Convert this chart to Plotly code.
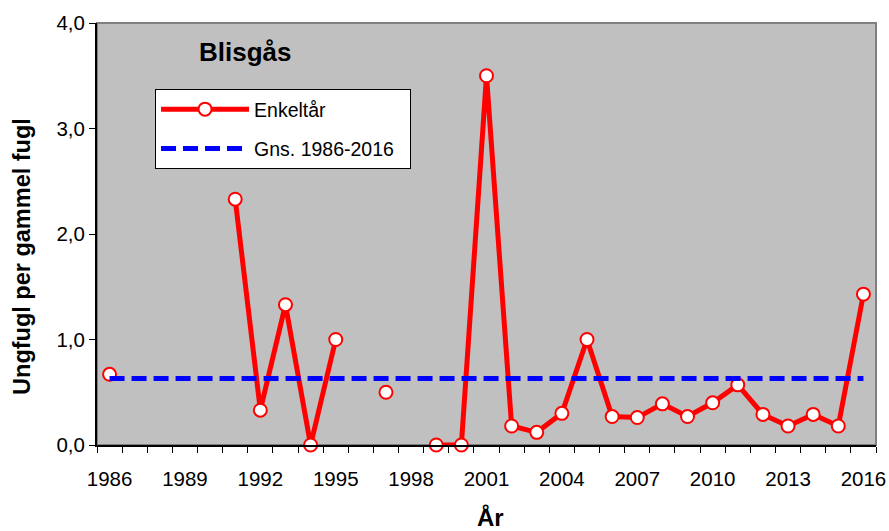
import plotly.graph_objects as go

# ---- data ----
years = list(range(1986, 2017))
values = [0.67, None, None, None, None, 2.33, 0.33, 1.33, 0.0, 1.0,
          None, 0.5, None, 0.0, 0.0, 3.5, 0.18, 0.12, 0.30, 1.0,
          0.27, 0.26, 0.39, 0.27, 0.40, 0.57, 0.29, 0.18, 0.29, 0.18, 1.43]
mean_years = [1986, 2016]
mean_values = [0.63, 0.63]
x_tick_years = [1986, 1989, 1992, 1995, 1998, 2001, 2004, 2007, 2010, 2013, 2016]
y_tick_vals = [0, 1, 2, 3, 4]
y_tick_text = ["0,0", "1,0", "2,0", "3,0", "4,0"]

FONT = "Liberation Sans, Arial, sans-serif"

fig = go.Figure()
fig.add_trace(go.Scatter(
    x=years, y=values, mode="lines+markers", name="Enkeltår",
    line=dict(color="#ff0000", width=5),
    marker=dict(size=13, color="white", line=dict(color="#ff0000", width=2)),
    connectgaps=False, cliponaxis=False, legendgroup="a",
))
fig.add_trace(go.Scatter(
    x=mean_years, y=mean_values, mode="lines", name="Gns. 1986-2016\u00a0\u00a0",
    line=dict(color="#0000ff", width=5, dash="15px,7px"),
    cliponaxis=False, legendgroup="b",
))

fig.update_layout(
    width=889, height=531,
    margin=dict(l=97, r=13, t=23, b=86, autoexpand=False),
    paper_bgcolor="white", plot_bgcolor="#c0c0c0",
    font=dict(family=FONT, size=20, color="black"),
    showlegend=True,
    legend=dict(
        x=0.0745, y=0.8436, xanchor="left", yanchor="top",
        bgcolor="white", bordercolor="black", borderwidth=1,
        font=dict(family=FONT, size=19.5, color="black"),
        traceorder="grouped", tracegroupgap=11,
        itemwidth=88,
    ),
    annotations=[
        dict(text="<b>Blisgås</b>", xref="paper", yref="paper",
             x=0.19, y=0.931, xanchor="center", yanchor="middle",
             showarrow=False, font=dict(family=FONT, size=26, color="black")),
        dict(text="<b>Ungfugl per gammel fugl</b>", xref="paper", yref="paper",
             x=-0.0963, y=0.448, xanchor="center", yanchor="middle", textangle=-90,
             showarrow=False, font=dict(family=FONT, size=23.5, color="black")),
        dict(text="<b>År</b>", xref="paper", yref="paper",
             x=0.5055, y=-0.171, xanchor="center", yanchor="middle",
             showarrow=False, font=dict(family=FONT, size=24, color="black")),
    ],
    shapes=[dict(
        type="rect", xref="paper", yref="paper", x0=0, y0=0, x1=1, y1=1,
        line=dict(color="#808080", width=2), layer="below",
    )],
)

fig.update_xaxes(
    range=[1985.5, 2016.5], tickmode="array", tickvals=x_tick_years,
    ticktext=[str(y) for y in x_tick_years], ticks="", ticklabelstandoff=14,
    minor=dict(tick0=1985.5, dtick=1, ticks="outside", ticklen=6,
               tickcolor="black", tickwidth=1, showgrid=False),
    showgrid=False, zeroline=False,
    showline=True, linecolor="black", linewidth=2,
    tickfont=dict(family=FONT, size=20.5),
)
fig.update_yaxes(
    range=[0, 4], tickmode="array", tickvals=y_tick_vals, ticktext=y_tick_text,
    ticks="outside", ticklen=6, tickcolor="black", tickwidth=1,
    showgrid=False, zeroline=False,
    showline=True, linecolor="black", linewidth=2,
    tickfont=dict(family=FONT, size=20.5),
)

fig.write_html("out.html", config={"displayModeBar": False},
               post_script="document.body.style.margin='0px';document.body.style.padding='0px';")
